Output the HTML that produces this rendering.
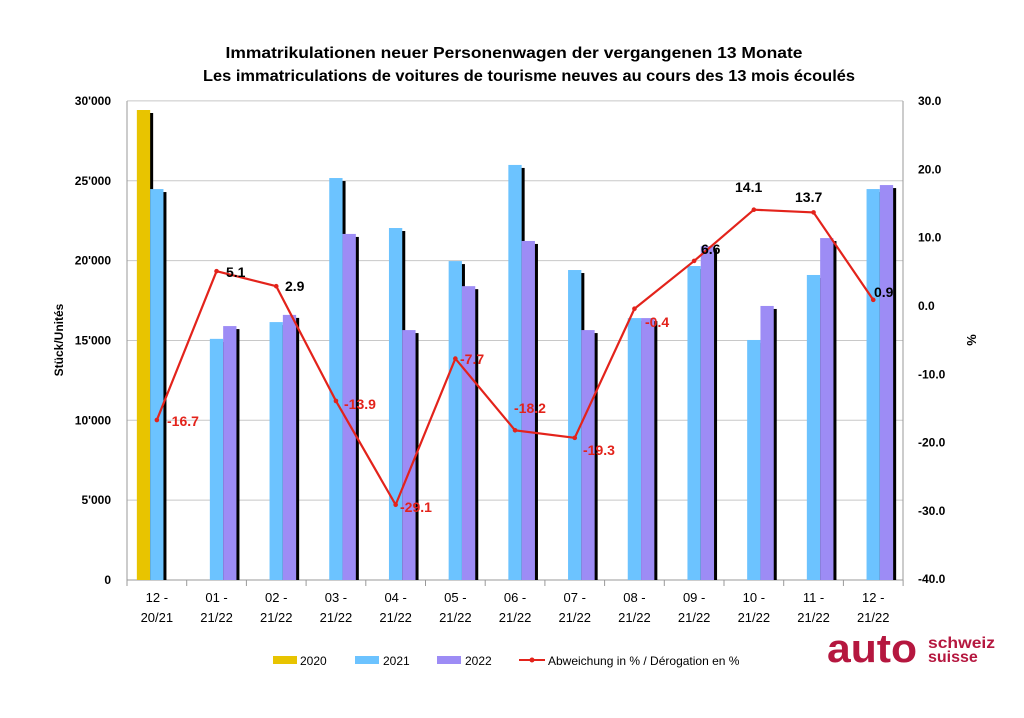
<!DOCTYPE html>
<html><head><meta charset="utf-8"><style>
body{margin:0;background:#fff}
svg{display:block;font-family:"Liberation Sans",Arial,sans-serif}
</style></head><body>
<svg id="c" width="1024" height="718" viewBox="0 0 1024 718"></svg>
<script>
const s=document.getElementById('c');let h='';
const X0=127,W=59.7,Y0=580,K=15.97/1000;
const yv=v=>Y0-v*K, yp=p=>306-p*6.83;
for(let i=0;i<=6;i++){const y=Y0-i*5000*K;h+=`<line x1="${X0}" x2="903" y1="${y}" y2="${y}" stroke="#c8c8c8"/>`;
 h+=`<text x="111" y="${y+4}" font-size="12" font-weight="bold" text-anchor="end">${i==0?'0':(i*5)+"'000"}</text>`;}
for(let i=0;i<=7;i++){const p=30-i*10;const y=yp(p);h+=`<text x="918" y="${y+4}" font-size="12" font-weight="bold">${p.toFixed(1)}</text>`;}
h+=`<line x1="${X0}" x2="${X0}" y1="101" y2="580" stroke="#999"/><line x1="903" x2="903" y1="101" y2="580" stroke="#999"/>`;
h+=`<line x1="${X0}" x2="903" y1="580" y2="580" stroke="#999"/>`;
for(let i=0;i<=13;i++){const x=X0+i*W;h+=`<line x1="${x}" x2="${x}" y1="580" y2="586" stroke="#999"/>`;}
const d21=[24480,15100,16150,25170,22040,19970,25990,19410,16400,19660,15030,19100,24480];
const d22=[null,15900,16600,21670,15650,18400,21230,15650,16400,20900,17160,21410,24730];
const pct=[-16.7,5.1,2.9,-13.9,-29.1,-7.7,-18.2,-19.3,-0.4,6.6,14.1,13.7,0.9];
const labs=[["12 -","20/21"]].concat(["01","02","03","04","05","06","07","08","09","10","11","12"].map(m=>[m+" -","21/22"]));
function bar(x,v,c){const y=yv(v);h+=`<rect x="${x+3}" y="${y+3}" width="13.3" height="${Y0-y-3}" fill="#000"/><rect x="${x}" y="${y}" width="13.3" height="${Y0-y}" fill="${c}"/>`;}
for(let i=0;i<13;i++){const c=X0+W*(i+.5);
 if(i==0)bar(c-20,29430,"#e8c400");
 bar(c-6.7,d21[i],"#6cc3ff");
 if(d22[i])bar(c+6.6,d22[i],"#9d8cf5");
 h+=`<text x="${c}" y="602" font-size="13" text-anchor="middle">${labs[i][0]}</text><text x="${c}" y="622" font-size="13" text-anchor="middle">${labs[i][1]}</text>`;}
let pts=pct.map((p,i)=>`${X0+W*(i+.5)},${yp(p)}`).join(' ');
h+=`<polyline points="${pts}" fill="none" stroke="#e3231b" stroke-width="2.2"/>`;
pct.forEach((p,i)=>{h+=`<circle cx="${X0+W*(i+.5)}" cy="${yp(p)}" r="2.3" fill="#e3231b"/>`;});
const L=[[167,426,"-16.7","r"],[226,277,"5.1","k"],[285,291,"2.9","k"],[344,409,"-13.9","r"],[400,512,"-29.1","r"],[460,364,"-7.7","r"],[514,413,"-18.2","r"],[583,455,"-19.3","r"],[645,327,"-0.4","r"],[701,254,"6.6","k"],[735,192,"14.1","k"],[795,202,"13.7","k"],[874,297,"0.9","k"]];
L.forEach(l=>{h+=`<text x="${l[0]}" y="${l[1]}" font-size="14" font-weight="bold" fill="${l[3]=='r'?'#e3231b':'#000'}">${l[2]}</text>`;});
h+=`<text x="514" y="58" font-size="16" font-weight="bold" text-anchor="middle" textLength="577" lengthAdjust="spacingAndGlyphs">Immatrikulationen neuer Personenwagen der vergangenen 13 Monate</text>`;
h+=`<text x="529" y="81" font-size="16" font-weight="bold" text-anchor="middle" textLength="652" lengthAdjust="spacingAndGlyphs">Les immatriculations de voitures de tourisme neuves au cours des 13 mois écoulés</text>`;
h+=`<text transform="translate(63,340) rotate(-90)" font-size="12" font-weight="bold" text-anchor="middle">Stück/Unités</text>`;
h+=`<text transform="translate(967,340) rotate(90)" font-size="13" font-weight="bold" text-anchor="middle">%</text>`;
h+=`<rect x="273" y="656" width="24" height="8" fill="#e8c400"/><text x="300" y="665" font-size="12">2020</text>`;
h+=`<rect x="355" y="656" width="24" height="8" fill="#6cc3ff"/><text x="383" y="665" font-size="12">2021</text>`;
h+=`<rect x="437" y="656" width="24" height="8" fill="#9d8cf5"/><text x="465" y="665" font-size="12">2022</text>`;
h+=`<line x1="519" x2="545" y1="660" y2="660" stroke="#e3231b" stroke-width="2"/><circle cx="532" cy="660" r="2.5" fill="#e3231b"/><text x="548" y="665" font-size="12">Abweichung in % / Dérogation en %</text>`;
h+=`<text x="827" y="662" font-size="40" font-weight="bold" fill="#b5173f" textLength="90" lengthAdjust="spacingAndGlyphs">auto</text>`;
h+=`<text x="928" y="648" font-size="16" font-weight="bold" fill="#b5173f" textLength="67" lengthAdjust="spacingAndGlyphs">schweiz</text><text x="928" y="662" font-size="16" font-weight="bold" fill="#b5173f">suisse</text>`;
s.innerHTML=h;
</script>
</body></html>
